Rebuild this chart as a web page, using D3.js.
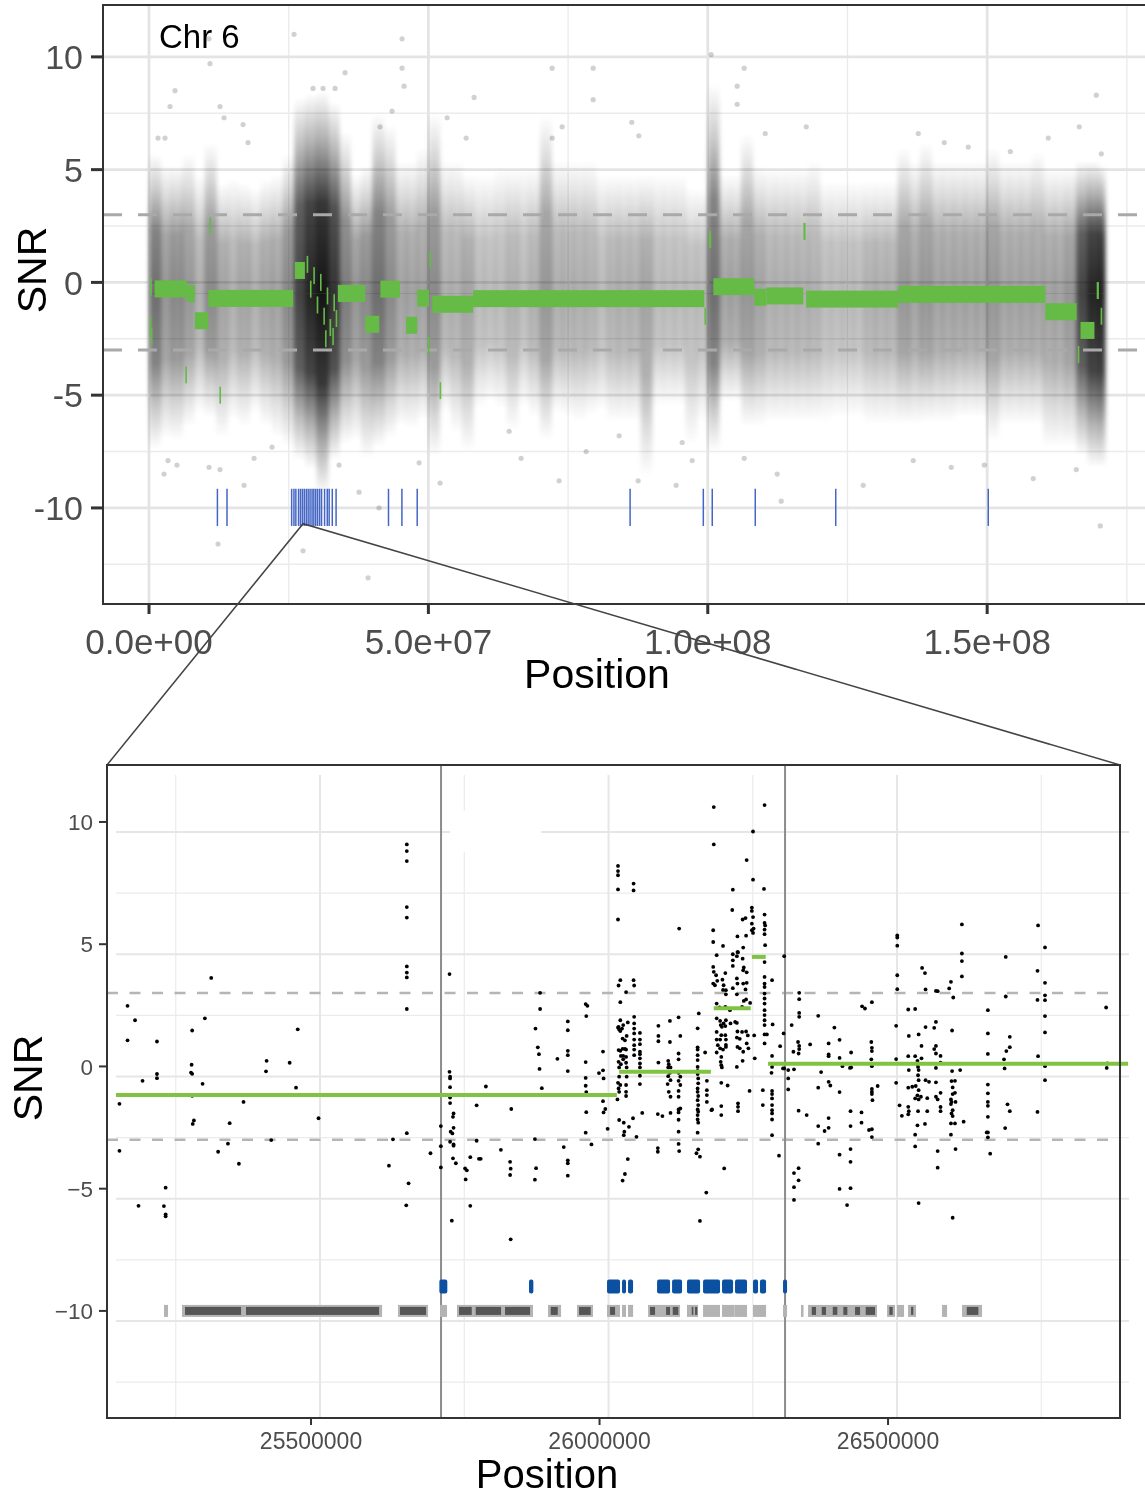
<!DOCTYPE html>
<html>
<head>
<meta charset="utf-8">
<script src="https://cdn.jsdelivr.net/npm/d3@7"></script>
<style>
  body { margin: 0; background: #fff; }
  svg { display: block; font-family: "Liberation Sans", Arial, Helvetica, sans-serif; }
</style>
</head>
<body>
<svg id="chart" width="1145" height="1495"></svg>
<script>
const MB = 1e6;

// ---- top panel (whole chromosome) ----
const chrLabel = 'Chr 6';
const chrEnd = 171.1;
const topTickX = [0, 5e7, 1e8, 1.5e8];
const topTickXLabels = ['0.0e+00', '5.0e+07', '1.0e+08', '1.5e+08'];
const topMinorX = [2.5e7, 7.5e7, 1.25e8, 1.75e8];
const topTickY = [-10, -5, 0, 5, 10];
const topTickYLabels = ['-10', '-5', '0', '5', '10'];
const minorY = [-12.5, -7.5, -2.5, 2.5, 7.5];
const thresholds = [3, -3];

// point cloud summarised per 2 Mb bin: upper / lower extent and density
const cloudStart = [0,2,4,6,8,10,12,14,16,18,20,22,24,26,28,30,32,34,36,38,40,42,44,46,48,50,52,54,56,58,
  60,62,64,66,68,70,72,74,76,78,80,82,84,86,88,90,92,94,96,98,100,102,104,106,108,110,112,114,116,118,
  120,122,124,126,128,130,132,134,136,138,140,142,144,146,148,150,152,154,156,158,160,162,164,166,168,170];
const cloudHi = [4.5,4.0,4.0,4.5,3.6,5.0,3.2,3.4,3.2,3.0, 3.4,3.6,4.5,7.0,7.2,7.3,6.8,5.5,3.6,4.0,
  6.3,5.8,4.2,4.2,4.8,6.3,4.2,4.2,3.6,3.6, 3.6,3.9,3.9,3.9,3.9,6.2,4.2,4.2,4.2,4.2,
  3.6,3.6,3.6,3.6,3.6,3.6,3.6,3.6,3.0,3.0, 7.6,3.6,3.6,5.4,4.0,3.9,3.9,3.9,3.9,4.2,
  3.3,3.3,3.3,3.3,3.3,3.3,3.3,4.8,4.2,5.0, 4.2,4.2,4.2,4.2,4.2,4.8,4.2,4.2,4.2,4.6, 3.9,3.9,3.9,4.2,4.2,4.0];
const cloudLo = [-6.2,-5.7,-5.8,-5.2,-4.6,-4.8,-5.7,-4.9,-5.2,-4.6, -5.2,-5.7,-6.1,-6.7,-7.1,-8.2,-6.7,-6.0,-5.8,-6.6,
  -6.1,-5.7,-5.2,-5.3,-4.9,-6.5,-4.6,-5.5,-6.3,-4.4, -4.1,-4.4,-5.4,-4.3,-4.8,-5.8,-4.6,-4.8,-5.0,-4.7,
  -4.5,-5.0,-5.0,-5.0,-7.4,-4.3,-4.3,-4.3,-6.0,-5.0, -6.3,-4.1,-4.1,-5.2,-5.2,-5.0,-5.0,-5.0,-5.0,-5.0,
  -5.0,-4.8,-4.8,-4.8,-5.1,-5.1,-5.1,-5.1,-5.1,-5.0, -5.0,-5.0,-4.8,-4.8,-4.8,-5.8,-5.1,-5.1,-5.1,-5.1, -6.1,-6.1,-6.1,-6.5,-7.0,-7.0];
const cloudDens = [.7,.55,.6,.55,.45,.6,.5,.45,.5,.45, .5,.5,.6,.85,.95,1,.9,.65,.55,.6,
  .7,.6,.5,.5,.5,.6,.45,.45,.5,.4, .4,.4,.45,.4,.45,.55,.45,.45,.45,.45,
  .4,.45,.45,.45,.5,.4,.4,.4,.4,.4, .7,.5,.5,.55,.5,.45,.45,.45,.45,.45,
  .4,.4,.4,.4,.45,.45,.45,.55,.5,.55, .5,.5,.5,.5,.5,.55,.5,.5,.5,.5, .5,.5,.55,.85,.95,.95];

// sparse outlying points [Mb, SNR]
const topOutliers = [[10.74,10.8],[10.92,9.7],[25.96,11.0],[35.09,9.3],[4.65,8.5],[3.76,7.8],[12.71,7.8],[13.43,7.3],
  [16.83,7.0],[17.72,6.2],[29.36,8.6],[31.15,8.6],[33.30,8.6],[43.50,7.6],[41.35,6.9],[1.61,6.4],[2.86,6.4],
  [45.29,10.8],[45.29,9.5],[72.15,9.5],[79.49,9.5],[58.18,8.2],[79.49,8.1],[100.61,10.1],[106.52,9.5],
  [105.26,8.7],[105.26,7.9],[169.53,8.3],[53.35,7.3],[86.40,7.1],[87.66,6.5],[73.94,6.9],[72.15,6.4],
  [117.62,6.9],[110.28,6.6],[166.49,6.9],[137.67,6.6],[142.32,6.2],[146.62,6.0],[154.14,5.8],[160.94,6.4],
  [170.43,5.7],[56.75,6.4],[45.65,8.7],
  [3.40,-7.9],[5.01,-8.1],[2.69,-8.5],[10.74,-8.2],[12.71,-8.3],[17.01,-9.0],[12.35,-11.6],[27.57,-11.9],
  [39.21,-13.1],[22.02,-7.3],[18.80,-7.8],[34.01,-8.1],[37.59,-9.3],[41.17,-10.0],[48.34,-8.0],[52.09,-8.9],
  [66.60,-7.8],[73.40,-8.8],[78.23,-7.5],[64.45,-6.6],[87.54,-8.8],[94.34,-9.0],[113.14,-9.7],[112.42,-8.5],
  [127.82,-9.0],[143.57,-8.2],[158.25,-8.7],[170.25,-10.8],[165.95,-8.3],[136.77,-7.9],[84.14,-6.8],
  [95.42,-7.1],[106.52,-7.8],[97.21,-7.9],[149.48,-8.1]];

// segmentation [start Mb, end Mb, SNR]
const topSegments = [[1.0,6.8,-0.29],[6.8,8.2,-0.5],[8.2,10.6,-1.7],[10.6,25.8,-0.71],[26.1,27.9,0.53],
  [33.8,38.7,-0.49],[38.7,41.2,-1.86],[41.4,44.9,-0.3],[46.0,48.0,-1.9],[48.0,50.1,-0.7],[50.7,58.0,-0.97],
  [58.0,99.4,-0.72],[101.0,108.3,-0.19],[108.3,110.5,-0.66],[110.5,117.1,-0.6],[117.6,134.1,-0.74],
  [134.1,160.4,-0.53],[160.4,166.0,-1.3],[166.7,169.2,-2.13],[169.6,170.0,-0.36],
  [0.2,0.5,-0.2],[0.1,0.4,-1.9],[0.3,0.6,-2.4],[6.5,6.7,-4.1],[10.8,11.0,2.5],[12.6,12.8,-5.0],
  [28.2,28.5,0.8],[28.8,29.0,-0.3],[29.4,29.6,0.3],[30.0,30.3,-1.0],[30.6,30.8,0.0],[31.2,31.4,-1.5],
  [31.5,31.7,-2.5],[31.8,32.0,-0.6],[32.3,32.6,-2.0],[32.8,33.0,-2.4],[33.0,33.2,-0.9],[33.4,33.6,-1.6],
  [50.2,50.5,1.0],[49.9,50.2,-2.8],[52.0,52.2,-4.8],[99.4,99.7,-1.5],[100.2,100.6,1.9],[117.1,117.5,2.26],
  [166.2,166.5,-3.2],[170.3,170.6,-1.5]];

// called regions (Mb)
const topMarkers = [12.24,13.96,25.53,25.94,26.28,26.76,27.10,27.44,27.78,28.14,28.48,28.82,29.18,29.50,
  29.84,30.18,30.54,30.88,31.42,31.90,32.24,32.80,33.48,42.86,45.26,48.0,86.1,99.2,100.8,108.5,122.9,150.2];
const zoomAnchor = 27.57;

// ---- bottom panel (zoomed window) ----
const botTickX = [25500000, 26000000, 26500000];
const botTickXLabels = ['25500000', '26000000', '26500000'];
const botMinorX = [25250000, 25750000, 26250000, 26750000];
const botTickY = [-10, -5, 0, 5, 10];
const botTickYLabels = ['\u221210', '\u22125', '0', '5', '10'];
const regionBounds = [25.7253, 26.3215];

const zoomSegments = [[25.162,26.030,-1.17],[26.034,26.193,-0.22],[26.198,26.262,2.38],[26.264,26.288,4.48],[26.292,26.916,0.11]];

const zoomMarkers = [[25.7224,25.7362],[25.8778,25.8853],[26.0130,26.0355],[26.0390,26.0459],[26.0494,26.0581],
  [26.0997,26.1222],[26.1257,26.1430],[26.1516,26.1742],[26.1794,26.2088],[26.2123,26.2314],[26.2348,26.2556],
  [26.2660,26.2747],[26.2780,26.2886],[26.3180,26.3250]];

const genes = [[25.2452,25.2522],[25.2764,25.3839],[25.3839,25.6231],[25.6508,25.7028],[25.7236,25.7357],
  [25.7530,25.7808],[25.7808,25.8310],[25.8310,25.8847],[25.9107,25.9333],[25.9610,25.9887],[26.0130,26.0355],
  [26.0390,26.0459],[26.0494,26.0581],[26.0841,26.1395],[26.1516,26.1707],[26.1794,26.2088],[26.2123,26.2340],
  [26.2340,26.2556],[26.2660,26.2886],[26.3180,26.3250],[26.3492,26.3527],[26.3614,26.4809],[26.4983,26.5121],
  [26.5156,26.5277],[26.5347,26.5485],[26.5936,26.6023],[26.6282,26.6629]];
const exons = [[25.2816,25.3787],[25.3873,25.6179],[25.6542,25.6993],[25.7565,25.7785],[25.7854,25.8293],
  [25.8362,25.8795],[25.9154,25.9276],[25.9645,25.9847],[26.0182,26.0269],[26.0875,26.0962],[26.1153,26.1222],
  [26.1269,26.1366],[26.1598,26.1626],[26.1655,26.1695],[26.3678,26.3752],[26.3851,26.3925],[26.4042,26.4121],
  [26.4225,26.4295],[26.4428,26.4515],[26.4613,26.4775],[26.5023,26.5081],[26.5399,26.5438],[26.6364,26.6565]];

// probes [Mb, SNR]
const zoomPoints = [
  [25.666,9.08],[25.666,8.81],[25.666,8.40],[25.666,6.52],[25.666,6.09],[25.666,4.09],[25.666,3.84],[25.666,3.64],
  [25.666,2.35],[25.327,3.62],[25.182,2.48],[25.195,1.89],[25.182,1.07],[25.233,1.02],[25.294,1.47],[25.316,1.97],
  [25.477,1.52],[25.293,0.07],[25.292,-0.25],[25.294,-0.30],[25.233,-0.31],[25.233,-0.48],[25.208,-0.59],
  [25.312,-0.71],[25.423,0.23],[25.422,-0.20],[25.463,0.15],[25.474,-0.87],[25.168,-1.53],[25.383,-1.45],
  [25.297,-2.21],[25.295,-2.35],[25.359,-2.32],[25.513,-2.12],[25.666,-2.73],[25.642,-2.98],[25.168,-3.45],
  [25.339,-3.49],[25.356,-3.16],[25.431,-3.01],[25.375,-3.98],[25.635,-4.06],[25.707,-3.55],[25.248,-4.96],
  [25.669,-4.78],[25.201,-5.70],[25.245,-5.71],[25.248,-6.05],[25.248,-6.13],[25.665,-5.68],[25.294,-1.20],
  [25.740,3.78],[26.032,8.20],[26.032,7.99],[26.032,7.82],[26.032,7.24],[26.032,6.01],[25.897,3.01],[25.897,2.35],
  [25.889,1.55],[25.945,1.84],[25.945,1.48],[25.976,2.55],[25.979,2.48],[25.977,2.06],[25.893,0.78],[25.895,0.50],
  [25.945,0.64],[25.945,0.46],[25.927,0.31],[25.896,-0.10],[25.945,-0.19],[26.006,0.61],[25.976,0.18],
  [25.976,-0.47],[26.006,-0.16],[26.007,-0.49],[25.999,-0.27],[25.740,-0.22],[25.741,-0.42],[25.741,-0.49],
  [25.741,-0.85],[25.803,-0.82],[25.900,-0.89],[25.976,-0.79],[25.977,-1.05],[25.741,-1.27],[25.741,-1.50],
  [25.787,-1.59],[25.847,-1.74],[25.747,-1.92],[25.746,-2.06],[25.747,-2.51],[25.725,-2.44],[25.742,-2.67],
  [25.745,-2.74],[26.006,-1.42],[26.007,-1.88],[26.010,-1.74],[25.977,-1.87],[25.976,-2.71],[26.014,-2.55],
  [25.888,-2.97],[25.787,-3.04],[25.741,-3.08],[25.747,-3.19],[25.747,-3.24],[25.725,-3.26],[25.986,-3.19],
  [25.938,-3.30],[25.829,-3.41],[25.746,-3.76],[25.751,-3.96],[25.776,-3.71],[25.791,-3.78],[25.794,-3.78],
  [25.725,-4.13],[25.767,-4.17],[25.770,-4.25],[25.768,-4.62],[25.845,-3.90],[25.846,-4.18],[25.845,-4.44],
  [25.890,-4.16],[25.888,-4.63],[25.945,-3.84],[25.945,-3.96],[25.945,-4.47],[25.776,-5.70],[25.744,-6.31],
  [25.846,-7.07],
  [26.036,3.53],[26.033,3.31],[26.036,2.63],[26.046,3.04],[26.059,3.53],[26.060,3.31],[26.059,7.48],[26.059,7.20],
  [26.138,5.64],[26.198,10.61],[26.198,9.08],[26.286,10.69],[26.266,9.61],[26.255,8.44],[26.266,7.64],
  [26.285,7.26],[26.231,7.23],[26.230,6.40],
  [26.264,6.50],[26.264,6.36],[26.266,6.11],[26.264,5.84],[26.267,5.64],[26.266,5.46],[26.264,5.57],
  [26.286,6.21],[26.286,5.87],[26.287,5.77],[26.286,5.60],[26.286,5.41],[26.287,4.96],[26.253,6.07],[26.248,6.01],
  [26.197,5.57],[26.197,5.09],[26.214,4.93],[26.239,5.32],[26.254,5.35],[26.249,4.86],[26.239,4.68],[26.203,4.55],
  [26.231,4.59],[26.240,4.67],[26.238,4.51],[26.231,4.34],[26.231,4.11],[26.248,4.41],[26.250,4.05],[26.255,3.85],
  [26.249,3.93],[26.197,4.07],[26.198,3.87],[26.202,3.73],[26.197,3.39],[26.200,3.32],[26.204,3.50],
  [26.218,3.82],[26.213,3.55],[26.215,3.32],[26.219,3.12],[26.219,2.95],[26.214,3.13],
  [26.238,3.60],[26.239,3.39],[26.249,3.39],[26.255,3.42],[26.253,3.15],
  [26.231,3.20],[26.238,2.95],[26.250,2.68],[26.254,2.74],[26.261,2.60],[26.247,2.44],
  [26.203,2.57],[26.208,2.41],[26.218,2.44],[26.226,2.30],
  [26.203,1.97],[26.209,1.86],[26.215,1.76],[26.219,1.89],[26.227,1.76],[26.235,1.82],
  [26.210,1.69],[26.212,1.62],[26.218,1.65],[26.238,1.78],[26.239,1.43],[26.247,1.41],[26.254,1.43],
  [26.203,1.41],[26.211,1.28],[26.203,1.10],[26.209,1.10],[26.218,1.28],[26.219,1.10],
  [26.238,1.18],[26.243,1.13],[26.257,1.27],[26.268,1.27],
  [26.205,0.87],[26.209,0.74],[26.214,0.69],[26.203,0.57],[26.219,0.88],[26.219,0.80],
  [26.239,0.80],[26.243,0.74],[26.255,0.94],[26.258,0.74],[26.249,0.60],
  [26.211,0.39],[26.210,0.19],[26.211,0.05],[26.212,-0.04],[26.238,-0.02],[26.248,0.23],[26.269,0.33],
  [26.211,-0.67],[26.222,-0.78],[26.260,-1.00],[26.211,-1.62],[26.211,-1.99],
  [26.240,-1.51],[26.240,-1.65],[26.240,-1.83],[26.216,-4.17],[26.195,-1.76],
  [26.286,4.27],[26.286,3.66],[26.286,3.39],[26.286,3.25],[26.286,2.98],[26.286,2.78],[26.286,2.57],[26.286,2.30],
  [26.286,2.10],[26.286,1.89],[26.286,1.69],[26.286,1.31],[26.286,0.94],
  [26.299,3.53],[26.320,4.51],[26.300,1.72],[26.290,1.31],[26.299,0.43],[26.299,-0.02],[26.298,-0.26],
  [26.319,1.35],[26.313,0.83],[26.318,-0.08],[26.320,-0.08],[26.327,-0.15],[26.327,-0.49],[26.327,-0.94],
  [26.283,-0.97],[26.283,-1.58],
  [26.299,-1.00],[26.299,-1.13],[26.299,-1.31],[26.299,-1.58],[26.299,-1.79],[26.299,-1.92],[26.299,-2.17],[26.299,-2.81],
  [26.311,-3.65],
  [26.036,1.89],[26.033,1.62],[26.034,1.51],[26.032,1.59],[26.036,1.45],[26.041,1.69],[26.039,1.55],
  [26.049,1.80],[26.047,1.25],[26.040,1.14],[26.044,1.07],
  [26.033,0.67],[26.036,0.64],[26.040,0.72],[26.044,0.72],[26.046,0.69],[26.037,0.43],[26.041,0.43],[26.046,0.39],
  [26.033,0.19],[26.037,0.09],[26.041,0.29],[26.046,0.15],[26.047,-0.04],[26.034,-0.04],
  [26.034,-0.42],[26.032,-0.67],[26.036,-0.76],[26.033,-0.90],[26.034,-1.04],[26.047,-0.42],[26.046,-0.76],
  [26.046,-1.04],[26.046,-1.21],[26.031,-1.35],
  [26.034,-2.19],[26.042,-2.30],[26.043,-2.67],[26.042,-2.81],[26.051,-2.47],[26.058,-2.12],[26.064,-2.88],
  [26.049,-3.79],[26.044,-4.40],[26.040,-4.67],
  [26.060,2.03],[26.060,1.76],[26.060,1.55],[26.060,1.35],[26.060,1.10],[26.060,0.87],[26.060,0.69],[26.060,0.46],
  [26.070,1.37],[26.070,1.10],[26.070,0.91],[26.070,0.60],[26.070,0.50],[26.070,0.33],[26.070,0.12],[26.070,-0.04],
  [26.070,-0.38],[26.070,-0.72],[26.074,-1.90],
  [26.102,1.66],[26.102,1.25],[26.102,1.03],[26.122,1.86],[26.122,1.00],[26.137,2.01],[26.140,1.25],
  [26.137,0.53],[26.137,0.29],[26.102,0.16],
  [26.119,0.23],[26.120,0.09],[26.119,-0.04],[26.123,-0.04],[26.122,-0.26],[26.119,-0.40],[26.123,-0.56],
  [26.118,-0.72],[26.120,-1.04],[26.123,-1.24],
  [26.137,-0.26],[26.140,-0.42],[26.137,-0.59],[26.140,-0.76],[26.137,-1.00],[26.137,-1.24],
  [26.137,-1.76],[26.140,-1.72],[26.137,-1.88],[26.137,-2.18],[26.137,-2.67],[26.137,-3.17],[26.138,-3.46],
  [26.101,-1.95],[26.109,-2.03],[26.123,-1.90],[26.101,-3.34],[26.101,-3.49],
  [26.172,2.17],[26.170,1.56],[26.170,0.78],[26.170,0.69],[26.170,0.46],[26.170,0.26],[26.170,-0.02],
  [26.170,-0.18],[26.170,-0.31],[26.183,0.57],
  [26.171,-0.49],[26.171,-0.69],[26.170,-0.90],[26.170,-1.04],[26.171,-1.21],[26.170,-1.38],[26.171,-1.58],
  [26.170,-1.76],[26.171,-1.85],[26.170,-1.99],[26.170,-2.17],[26.171,-2.30],
  [26.186,-0.59],[26.186,-0.97],[26.186,-1.17],[26.186,-1.45],[26.194,-1.79],[26.170,-2.71],
  [26.171,-3.39],[26.168,-3.55],[26.174,-3.69],[26.185,-5.16],[26.174,-6.32],
  [26.337,-0.12],[26.333,1.69],[26.336,0.60],[26.346,3.01],[26.346,2.75],[26.346,2.19],[26.346,2.03],
  [26.344,1.00],[26.346,0.84],[26.346,0.71],[26.345,0.53],[26.365,0.90],[26.379,2.07],[26.407,1.59],[26.416,1.09],
  [26.397,0.94],[26.397,0.49],[26.397,0.42],[26.416,0.35],[26.421,0.01],[26.436,0.57],[26.436,-0.04],[26.434,-0.06],
  [26.384,-0.23],[26.379,-0.87],[26.397,-0.63],[26.400,-0.78],[26.416,-1.05],[26.345,-1.81],[26.359,-1.99],
  [26.379,-2.44],[26.390,-2.64],[26.397,-2.51],[26.397,-2.11],[26.435,-1.83],[26.435,-2.44],[26.454,-1.88],
  [26.454,-2.30],[26.379,-3.16],[26.416,-3.61],[26.435,-3.38],[26.435,-3.90],
  [26.345,-4.16],[26.337,-4.36],[26.345,-4.66],[26.337,-4.94],[26.337,-5.46],[26.416,-5.01],[26.435,-4.98],[26.429,-5.67],
  [26.455,2.46],[26.460,2.37],[26.472,2.63],[26.471,1.00],[26.472,0.76],[26.472,0.63],[26.471,0.29],[26.472,0.01],
  [26.482,-0.80],[26.472,-0.92],[26.472,-1.04],[26.472,-1.13],[26.473,-1.38],[26.467,-2.60],[26.472,-2.57],[26.472,-2.89],
  [26.516,5.36],[26.516,5.27],[26.516,4.94],[26.516,3.73],[26.516,3.16],[26.514,1.66],[26.514,0.30],[26.514,-0.67],
  [26.535,2.33],[26.547,2.35],[26.536,1.25],[26.553,1.31],[26.558,0.84],
  [26.535,0.42],[26.547,0.42],[26.551,0.23],[26.551,0.09],[26.552,-0.02],[26.553,-0.15],[26.552,-0.36],[26.553,-0.56],
  [26.558,0.33],[26.536,-0.15],[26.535,-0.87],[26.542,-0.83],[26.548,-0.80],[26.553,-0.97],[26.551,-1.18],
  [26.547,-1.31],[26.553,-1.35],[26.557,-1.24],[26.535,-1.65],[26.536,-1.83],[26.535,-1.96],[26.524,-2.02],[26.520,-1.59],
  [26.552,-1.83],[26.568,-1.83],[26.551,-2.41],[26.564,-2.35],[26.547,-2.79],[26.547,-3.27],[26.553,-5.59],
  [26.559,4.03],[26.564,3.82],[26.565,3.15],[26.583,3.09],[26.586,3.08],[26.583,1.82],[26.580,1.58],[26.565,1.61],
  [26.583,0.84],[26.580,0.71],[26.583,0.53],[26.591,0.43],[26.591,0.15],[26.583,-0.06],
  [26.565,-0.56],[26.571,-0.63],[26.583,-0.65],[26.591,-1.08],[26.583,-1.24],[26.586,-1.35],[26.568,-1.30],
  [26.591,-1.66],[26.591,-1.83],[26.586,-3.46],[26.586,-4.14],
  [26.606,3.19],[26.609,3.46],[26.613,2.82],[26.611,1.47],
  [26.611,-0.19],[26.610,-0.60],[26.616,-0.59],[26.612,-0.86],[26.612,-1.13],[26.616,-1.08],[26.609,-1.35],
  [26.610,-1.45],[26.617,-1.45],[26.609,-1.54],[26.612,-1.79],[26.610,-1.92],[26.612,-2.03],[26.609,-2.33],
  [26.616,-2.33],[26.609,-2.79],[26.617,-3.38],[26.612,-6.19],[26.625,-0.15],[26.631,-2.26],
  [26.628,5.81],[26.628,4.62],[26.628,4.31],[26.628,3.68],
  [26.673,2.30],[26.673,1.35],[26.673,0.51],[26.673,-0.74],[26.673,-1.10],[26.673,-1.45],[26.673,-1.61],
  [26.673,-2.06],[26.671,-2.70],[26.673,-2.70],[26.673,-2.90],[26.677,-3.57],
  [26.704,4.48],[26.704,2.86],[26.711,1.21],[26.711,0.79],[26.705,0.63],[26.701,0.29],[26.702,-0.08],
  [26.707,-1.55],[26.711,-1.83],[26.703,-2.52],
  [26.760,5.77],[26.759,3.91],[26.759,2.72],[26.760,0.42],[26.759,-1.86],
  [26.772,4.87],[26.772,3.42],[26.772,2.91],[26.772,2.71],[26.772,2.06],[26.772,1.39],[26.772,0.01],[26.772,-0.56],
  [26.878,2.41],[26.880,0.12],[26.879,-0.06]
];

// ---- scales ----
const xTop = d3.scaleLinear().domain([-8.234e6, 179.5e6]).range([103, 1152]);
const yTop = d3.scaleLinear().domain([-14.26, 12.3]).range([604, 5]);
const xBot = d3.scaleLinear().domain([25.1464e6, 26.902e6]).range([107, 1120]);
const yBot = d3.scaleLinear().domain([-14.38, 12.33]).range([1418, 765]);

const svg = d3.select('#chart');
svg.append('rect').attr('width', 1145).attr('height', 1495).attr('fill', '#fff');

const defs = svg.append('defs');
function fade(id, y1, y2) {
  const g = defs.append('linearGradient').attr('id', id)
    .attr('x1', 0).attr('x2', 0).attr('y1', y1).attr('y2', y2);
  [[0, 1], [0.45, 0.85], [0.75, 0.35], [1, 0]].forEach(s =>
    g.append('stop').attr('offset', s[0]).attr('stop-color', '#000').attr('stop-opacity', s[1]));
}
fade('fadeUp', 1, 0);
fade('fadeDown', 0, 1);
defs.append('filter').attr('id', 'soft').attr('x', '-5%').attr('width', '110%')
  .append('feGaussianBlur').attr('stdDeviation', '2 0');

// ================= top panel =================
const topG = svg.append('g');
const gridTop = topG.append('g');
gridTop.selectAll('.vmin').data(topMinorX).join('line')
  .attr('x1', d => xTop(d)).attr('x2', d => xTop(d)).attr('y1', 5).attr('y2', 604)
  .attr('stroke', '#ebebeb').attr('stroke-width', 1.4);
gridTop.selectAll('.hmin').data(minorY).join('line')
  .attr('x1', 103).attr('x2', 1145).attr('y1', d => yTop(d)).attr('y2', d => yTop(d))
  .attr('stroke', '#ebebeb').attr('stroke-width', 1.4);
gridTop.selectAll('.vmaj').data(topTickX).join('line')
  .attr('x1', d => xTop(d)).attr('x2', d => xTop(d)).attr('y1', 5).attr('y2', 604)
  .attr('stroke', '#e4e4e4').attr('stroke-width', 2.8);
gridTop.selectAll('.hmaj').data(topTickY).join('line')
  .attr('x1', 103).attr('x2', 1145).attr('y1', d => yTop(d)).attr('y2', d => yTop(d))
  .attr('stroke', '#e4e4e4').attr('stroke-width', 2.8);

// point cloud
const split = -0.5;
const ext = 1.2;
const bins = cloudStart.map((s, i) => ({
  s, e: i < cloudStart.length - 1 ? cloudStart[i + 1] : chrEnd,
  hi: cloudHi[i], lo: cloudLo[i], d: cloudDens[i]
}));
const alpha = d => 0.92 * Math.pow(d, 1.35);
const cloud = topG.append('g').attr('filter', 'url(#soft)');
cloud.selectAll('.up').data(bins).join('rect')
  .attr('x', d => xTop(d.s * MB))
  .attr('width', d => xTop(d.e * MB) - xTop(d.s * MB) + 0.6)
  .attr('y', d => yTop(d.hi + ext)).attr('height', d => yTop(split) - yTop(d.hi + ext))
  .attr('fill', 'url(#fadeUp)').attr('opacity', d => alpha(d.d));
cloud.selectAll('.dn').data(bins).join('rect')
  .attr('x', d => xTop(d.s * MB))
  .attr('width', d => xTop(d.e * MB) - xTop(d.s * MB) + 0.6)
  .attr('y', yTop(split) - 0.3).attr('height', d => yTop(d.lo - ext) - yTop(split) + 0.3)
  .attr('fill', 'url(#fadeDown)').attr('opacity', d => alpha(d.d));

topG.append('g').selectAll('circle').data(topOutliers).join('circle')
  .attr('cx', d => xTop(d[0] * MB)).attr('cy', d => yTop(d[1])).attr('r', 2.6)
  .attr('fill', '#000').attr('fill-opacity', 0.18);

topG.append('g').selectAll('line').data(thresholds).join('line')
  .attr('x1', 103).attr('x2', 1145).attr('y1', d => yTop(d)).attr('y2', d => yTop(d))
  .attr('stroke', '#a9a9a9').attr('stroke-width', 3).attr('stroke-dasharray', '19 16');

topG.append('g').selectAll('rect').data(topSegments).join('rect')
  .attr('x', d => xTop(d[0] * MB))
  .attr('width', d => Math.max(1.6, xTop(d[1] * MB) - xTop(d[0] * MB)))
  .attr('y', d => yTop(d[2]) - 8.5).attr('height', 17)
  .attr('fill', '#66bb46');

topG.append('g').selectAll('line').data(topMarkers).join('line')
  .attr('x1', d => xTop(d * MB)).attr('x2', d => xTop(d * MB))
  .attr('y1', yTop(-9.15)).attr('y2', yTop(-10.8))
  .attr('stroke', '#4466c4').attr('stroke-width', 1.5);

// frame
topG.append('path').attr('d', 'M1145,5H103V604H1145')
  .attr('fill', 'none').attr('stroke', '#333').attr('stroke-width', 2);
topG.append('g').selectAll('line').data(topTickY).join('line')
  .attr('x1', 91).attr('x2', 103).attr('y1', d => yTop(d)).attr('y2', d => yTop(d))
  .attr('stroke', '#333').attr('stroke-width', 3);
topG.append('g').selectAll('line').data(topTickX).join('line')
  .attr('x1', d => xTop(d)).attr('x2', d => xTop(d)).attr('y1', 604).attr('y2', 614)
  .attr('stroke', '#333').attr('stroke-width', 3);
topG.append('g').selectAll('text').data(topTickY).join('text')
  .attr('x', 83).attr('y', d => yTop(d)).attr('dy', '0.36em')
  .attr('text-anchor', 'end').attr('font-size', 34).attr('fill', '#4d4d4d')
  .text((d, i) => topTickYLabels[i]);
topG.append('g').selectAll('text').data(topTickX).join('text')
  .attr('x', d => xTop(d)).attr('y', 654)
  .attr('text-anchor', 'middle').attr('font-size', 35).attr('fill', '#4d4d4d')
  .text((d, i) => topTickXLabels[i]);
topG.append('text').attr('x', 159).attr('y', 48).attr('font-size', 33).attr('fill', '#000').text(chrLabel);
topG.append('text').attr('transform', 'translate(46,270) rotate(-90)')
  .attr('text-anchor', 'middle').attr('font-size', 41).attr('fill', '#000').text('SNR');
topG.append('text').attr('x', 597).attr('y', 688)
  .attr('text-anchor', 'middle').attr('font-size', 41).attr('fill', '#000').text('Position');

// zoom connectors
const ax = xTop(zoomAnchor * MB), ay = yTop(-10.7);
svg.append('path')
  .attr('d', `M${xBot.range()[0]},${yBot.range()[1]}L${ax},${ay}L${xBot.range()[1]},${yBot.range()[1]}`)
  .attr('fill', 'none').attr('stroke', '#444').attr('stroke-width', 1.5);

// ================= bottom panel =================
const botG = svg.append('g');
botG.append('rect').attr('x', 107).attr('y', 765).attr('width', 1013).attr('height', 653).attr('fill', '#fff');

const gridBot = botG.append('g').attr('transform', 'translate(9,10)');
gridBot.selectAll('.vmin').data(botMinorX).join('line')
  .attr('x1', d => xBot(d)).attr('x2', d => xBot(d)).attr('y1', 765).attr('y2', 1407)
  .attr('stroke', '#ebebeb').attr('stroke-width', 1.2);
gridBot.selectAll('.hmin').data(minorY).join('line')
  .attr('x1', 107).attr('x2', 1120).attr('y1', d => yBot(d)).attr('y2', d => yBot(d))
  .attr('stroke', '#ebebeb').attr('stroke-width', 1.2);
gridBot.selectAll('.vmaj').data(botTickX).join('line')
  .attr('x1', d => xBot(d)).attr('x2', d => xBot(d)).attr('y1', 765).attr('y2', 1407)
  .attr('stroke', '#e6e6e6').attr('stroke-width', 2);
gridBot.selectAll('.hmaj').data(botTickY).join('line')
  .attr('x1', 107).attr('x2', 1120).attr('y1', d => yBot(d)).attr('y2', d => yBot(d))
  .attr('stroke', '#e6e6e6').attr('stroke-width', 2);
botG.append('rect').attr('x', 450).attr('y', 811).attr('width', 91).attr('height', 41).attr('fill', '#fff');

botG.append('g').selectAll('line').data(thresholds).join('line')
  .attr('x1', 107).attr('x2', 1120).attr('y1', d => yBot(d)).attr('y2', d => yBot(d))
  .attr('stroke', '#b5b5b5').attr('stroke-width', 2.5).attr('stroke-dasharray', '11 11.5');

botG.append('g').selectAll('line').data(regionBounds).join('line')
  .attr('x1', d => xBot(d * MB)).attr('x2', d => xBot(d * MB)).attr('y1', 765).attr('y2', 1418)
  .attr('stroke', '#8c8c8c').attr('stroke-width', 2);

botG.append('g').selectAll('circle').data(zoomPoints).join('circle')
  .attr('cx', d => xBot(d[0] * MB)).attr('cy', d => yBot(d[1])).attr('r', 1.9)
  .attr('fill', '#000');

botG.append('g').selectAll('line').data(zoomSegments).join('line')
  .attr('x1', d => xBot(d[0] * MB)).attr('x2', d => xBot(d[1] * MB))
  .attr('y1', d => yBot(d[2])).attr('y2', d => yBot(d[2]))
  .attr('stroke', '#80c242').attr('stroke-width', 4);

botG.append('g').selectAll('rect').data(zoomMarkers).join('rect')
  .attr('x', d => xBot(d[0] * MB)).attr('width', d => Math.max(3, xBot(d[1] * MB) - xBot(d[0] * MB)))
  .attr('y', yBot(-9) - 7).attr('height', 14).attr('rx', 2)
  .attr('fill', '#0c50a2');

botG.append('g').selectAll('rect').data(genes).join('rect')
  .attr('x', d => xBot(d[0] * MB)).attr('width', d => Math.max(2.5, xBot(d[1] * MB) - xBot(d[0] * MB)))
  .attr('y', yBot(-10) - 6).attr('height', 12)
  .attr('fill', '#b3b3b3');
botG.append('g').selectAll('rect').data(exons).join('rect')
  .attr('x', d => xBot(d[0] * MB)).attr('width', d => Math.max(1.5, xBot(d[1] * MB) - xBot(d[0] * MB)))
  .attr('y', yBot(-10) - 4).attr('height', 8)
  .attr('fill', '#555');

botG.append('rect').attr('x', 107).attr('y', 765).attr('width', 1013).attr('height', 653)
  .attr('fill', 'none').attr('stroke', '#333').attr('stroke-width', 2);
botG.append('g').selectAll('line').data(botTickY).join('line')
  .attr('x1', 99).attr('x2', 107).attr('y1', d => yBot(d)).attr('y2', d => yBot(d))
  .attr('stroke', '#333').attr('stroke-width', 2);
botG.append('g').selectAll('line').data(botTickX).join('line')
  .attr('x1', d => xBot(d)).attr('x2', d => xBot(d)).attr('y1', 1418).attr('y2', 1425)
  .attr('stroke', '#333').attr('stroke-width', 2);
botG.append('g').selectAll('text').data(botTickY).join('text')
  .attr('x', 93).attr('y', d => yBot(d)).attr('dy', '0.36em')
  .attr('text-anchor', 'end').attr('font-size', 22.5).attr('fill', '#4d4d4d')
  .text((d, i) => botTickYLabels[i]);
botG.append('g').selectAll('text').data(botTickX).join('text')
  .attr('x', d => xBot(d)).attr('y', 1449)
  .attr('text-anchor', 'middle').attr('font-size', 23).attr('fill', '#4d4d4d')
  .text((d, i) => botTickXLabels[i]);
botG.append('text').attr('transform', 'translate(42,1078) rotate(-90)')
  .attr('text-anchor', 'middle').attr('font-size', 41).attr('fill', '#000').text('SNR');
botG.append('text').attr('x', 547).attr('y', 1488)
  .attr('text-anchor', 'middle').attr('font-size', 40).attr('fill', '#000').text('Position');
</script>
</body>
</html>
